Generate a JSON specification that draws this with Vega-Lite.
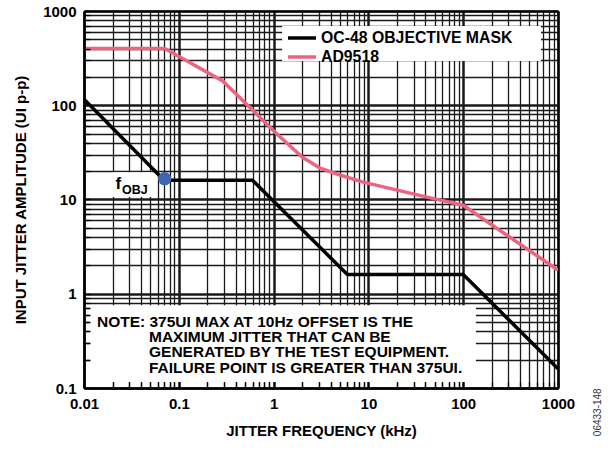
{
  "$schema": "https://vega.github.io/schema/vega-lite/v6.json",
  "autosize": "none",
  "width": 474,
  "height": 377,
  "padding": {"left": 84, "top": 11, "right": 58, "bottom": 64},
  "background": "white",
  "config": {
    "view": {"stroke": null},
    "font": "Liberation Sans",
    "axis": {"labelFont": "Liberation Sans", "titleFont": "Liberation Sans", "labelFontWeight": "bold", "titleFontWeight": "bold", "labelColor": "black", "titleColor": "black", "labelFontSize": 15, "titleFontSize": 15}
  },
  "datasets": {
    "curves": [
      {"x": 0.01, "y": 116, "series": "OC-48 OBJECTIVE MASK"},
      {"x": 0.07, "y": 16, "series": "OC-48 OBJECTIVE MASK"},
      {"x": 0.6, "y": 16, "series": "OC-48 OBJECTIVE MASK"},
      {"x": 6, "y": 1.6, "series": "OC-48 OBJECTIVE MASK"},
      {"x": 100, "y": 1.6, "series": "OC-48 OBJECTIVE MASK"},
      {"x": 1000, "y": 0.16, "series": "OC-48 OBJECTIVE MASK"},
      {"x": 0.01, "y": 400, "series": "AD9518"},
      {"x": 0.071, "y": 400, "series": "AD9518"},
      {"x": 0.29, "y": 181, "series": "AD9518"},
      {"x": 0.6, "y": 89, "series": "AD9518"},
      {"x": 1.03, "y": 52, "series": "AD9518"},
      {"x": 2.0, "y": 28.2, "series": "AD9518"},
      {"x": 3.1, "y": 21.5, "series": "AD9518"},
      {"x": 5.0, "y": 18.2, "series": "AD9518"},
      {"x": 8.8, "y": 15.3, "series": "AD9518"},
      {"x": 45, "y": 10.4, "series": "AD9518"},
      {"x": 100, "y": 8.7, "series": "AD9518"},
      {"x": 1000, "y": 1.78, "series": "AD9518"}
    ],
    "boxes": [
      {"x": 1.23, "x2": 662, "y": 693, "y2": 294},
      {"x": 0.0197, "x2": 0.0521, "y": 19.5, "y2": 10.6},
      {"x": 0.01157, "x2": 136, "y": 0.757, "y2": 0.1158}
    ],
    "point": [{"x": 0.071, "y": 16.6}],
    "notes": [
      {"x": 0.0137, "y": 0.449, "text": "NOTE: 375UI MAX AT 10Hz OFFSET IS THE"},
      {"x": 0.0485, "y": 0.3076, "text": "MAXIMUM JITTER THAT CAN BE"},
      {"x": 0.0485, "y": 0.2107, "text": "GENERATED BY THE TEST EQUIPMENT."},
      {"x": 0.0485, "y": 0.1442, "text": "FAILURE POINT IS GREATER THAN 375UI."}
    ],
    "fbig": [{"x": 0.0215, "y": 12.9, "text": "f"}],
    "fsub": [{"x": 0.0252, "y": 11.4, "text": "OBJ"}],
    "side": [{"x": 2642, "y": 0.0553, "text": "06433-148"}]
  },
  "resolve": {"axis": {"x": "independent", "y": "independent"}},
  "layer": [
    {
      "data": {"name": "boxes"},
      "mark": {"type": "rect", "fill": "white", "stroke": null},
      "encoding": {
        "x": {"field": "x", "type": "quantitative", "scale": {"type": "log", "domain": [0.01, 1000], "nice": false},
          "axis": {"orient": "top", "values": [0.01,0.02,0.03,0.04,0.05,0.06,0.07,0.08,0.09,0.1,0.2,0.3,0.4,0.5,0.6,0.7,0.8,0.9,1,2,3,4,5,6,7,8,9,10,20,30,40,50,60,70,80,90,100,200,300,400,500,600,700,800,900,1000],
            "grid": true, "gridColor": "#1a1a1a", "gridOpacity": 1,
            "gridWidth": {"condition": {"test": "abs(log(datum.value)/LN10 - round(log(datum.value)/LN10)) < 0.001", "value": 2.5}, "value": 1.3},
            "labels": false, "ticks": false, "title": null, "domain": true, "domainColor": "black", "domainWidth": 2, "zindex": 0}},
        "x2": {"field": "x2"},
        "y": {"field": "y", "type": "quantitative", "scale": {"type": "log", "domain": [0.1, 1000], "nice": false},
          "axis": {"orient": "right", "values": [0.1,0.2,0.3,0.4,0.5,0.6,0.7,0.8,0.9,1,2,3,4,5,6,7,8,9,10,20,30,40,50,60,70,80,90,100,200,300,400,500,600,700,800,900,1000],
            "grid": true, "gridColor": "#1a1a1a", "gridOpacity": 1,
            "gridWidth": {"condition": {"test": "abs(log(datum.value)/LN10 - round(log(datum.value)/LN10)) < 0.001", "value": 2.5}, "value": 1.3},
            "labels": false, "ticks": false, "title": null, "domain": true, "domainColor": "black", "domainWidth": 2, "zindex": 0}},
        "y2": {"field": "y2"}
      }
    },
    {
      "data": {"name": "curves"},
      "mark": {"type": "line", "strokeWidth": 3.5, "clip": true},
      "encoding": {
        "x": {"field": "x", "type": "quantitative", "scale": {"type": "log", "domain": [0.01, 1000], "nice": false},
          "axis": {"orient": "bottom", "title": "JITTER FREQUENCY (kHz)", "values": [0.01,0.02,0.03,0.04,0.05,0.06,0.07,0.08,0.09,0.1,0.2,0.3,0.4,0.5,0.6,0.7,0.8,0.9,1,2,3,4,5,6,7,8,9,10,20,30,40,50,60,70,80,90,100,200,300,400,500,600,700,800,900,1000],
            "labelExpr": "abs(log(datum.value)/LN10 - round(log(datum.value)/LN10)) < 0.001 ? format(datum.value, '~g') : ''",
            "grid": false, "ticks": true, "tickSize": -6, "tickColor": "black", "tickWidth": 1.3, "domain": true, "domainColor": "black", "domainWidth": 2.5,
            "labelPadding": 14, "titlePadding": 12, "labelFlush": false, "labelOverlap": false, "zindex": 1}},
        "y": {"field": "y", "type": "quantitative", "scale": {"type": "log", "domain": [0.1, 1000], "nice": false},
          "axis": {"orient": "left", "title": "INPUT JITTER AMPLITUDE (UI p-p)", "values": [0.1,0.2,0.3,0.4,0.5,0.6,0.7,0.8,0.9,1,2,3,4,5,6,7,8,9,10,20,30,40,50,60,70,80,90,100,200,300,400,500,600,700,800,900,1000],
            "labelExpr": "abs(log(datum.value)/LN10 - round(log(datum.value)/LN10)) < 0.001 ? format(datum.value, '~g') : ''",
            "grid": false, "ticks": true, "tickSize": -6, "tickColor": "black", "tickWidth": 1.3, "domain": true, "domainColor": "black", "domainWidth": 2.5,
            "labelPadding": 14, "titlePadding": 14, "labelFlush": false, "labelOverlap": false, "zindex": 1}},
        "color": {"field": "series", "type": "nominal",
          "scale": {"domain": ["OC-48 OBJECTIVE MASK", "AD9518"], "range": ["black", "#EC6580"]},
          "legend": {"title": null, "orient": "none", "legendX": 208, "legendY": 17, "padding": 0, "symbolType": "M-1.75,0H1.75", "symbolSize": 256, "symbolStrokeWidth": 3.5, "labelFont": "Liberation Sans", "labelFontWeight": "bold", "labelFontSize": 15.8, "labelColor": "black", "labelOffset": 9, "rowPadding": 1, "labelLimit": 400}}
      }
    },
    {
      "data": {"name": "point"},
      "mark": {"type": "point", "filled": true, "color": "#3F67AD", "opacity": 1, "size": 180},
      "encoding": {
        "x": {"field": "x", "type": "quantitative", "scale": {"type": "log", "domain": [0.01, 1000], "nice": false}, "axis": null},
        "y": {"field": "y", "type": "quantitative", "scale": {"type": "log", "domain": [0.1, 1000], "nice": false}, "axis": null}
      }
    },
    {
      "data": {"name": "notes"},
      "mark": {"type": "text", "align": "left", "baseline": "alphabetic", "font": "Liberation Sans", "fontWeight": "bold", "fontSize": 15.5, "color": "black"},
      "encoding": {
        "x": {"field": "x", "type": "quantitative", "scale": {"type": "log", "domain": [0.01, 1000], "nice": false}, "axis": null},
        "y": {"field": "y", "type": "quantitative", "scale": {"type": "log", "domain": [0.1, 1000], "nice": false}, "axis": null},
        "text": {"field": "text"}
      }
    },
    {
      "data": {"name": "fbig"},
      "mark": {"type": "text", "align": "left", "baseline": "alphabetic", "font": "Liberation Sans", "fontWeight": "bold", "fontSize": 17, "color": "black"},
      "encoding": {
        "x": {"field": "x", "type": "quantitative", "scale": {"type": "log", "domain": [0.01, 1000], "nice": false}, "axis": null},
        "y": {"field": "y", "type": "quantitative", "scale": {"type": "log", "domain": [0.1, 1000], "nice": false}, "axis": null},
        "text": {"field": "text"}
      }
    },
    {
      "data": {"name": "fsub"},
      "mark": {"type": "text", "align": "left", "baseline": "alphabetic", "font": "Liberation Sans", "fontWeight": "bold", "fontSize": 12.5, "color": "black"},
      "encoding": {
        "x": {"field": "x", "type": "quantitative", "scale": {"type": "log", "domain": [0.01, 1000], "nice": false}, "axis": null},
        "y": {"field": "y", "type": "quantitative", "scale": {"type": "log", "domain": [0.1, 1000], "nice": false}, "axis": null},
        "text": {"field": "text"}
      }
    },
    {
      "data": {"name": "side"},
      "mark": {"type": "text", "align": "center", "baseline": "middle", "angle": 270, "font": "Liberation Sans", "fontSize": 10, "color": "#333"},
      "encoding": {
        "x": {"field": "x", "type": "quantitative", "scale": {"type": "log", "domain": [0.01, 1000], "nice": false}, "axis": null},
        "y": {"field": "y", "type": "quantitative", "scale": {"type": "log", "domain": [0.1, 1000], "nice": false}, "axis": null},
        "text": {"field": "text"}
      }
    }
  ]
}
